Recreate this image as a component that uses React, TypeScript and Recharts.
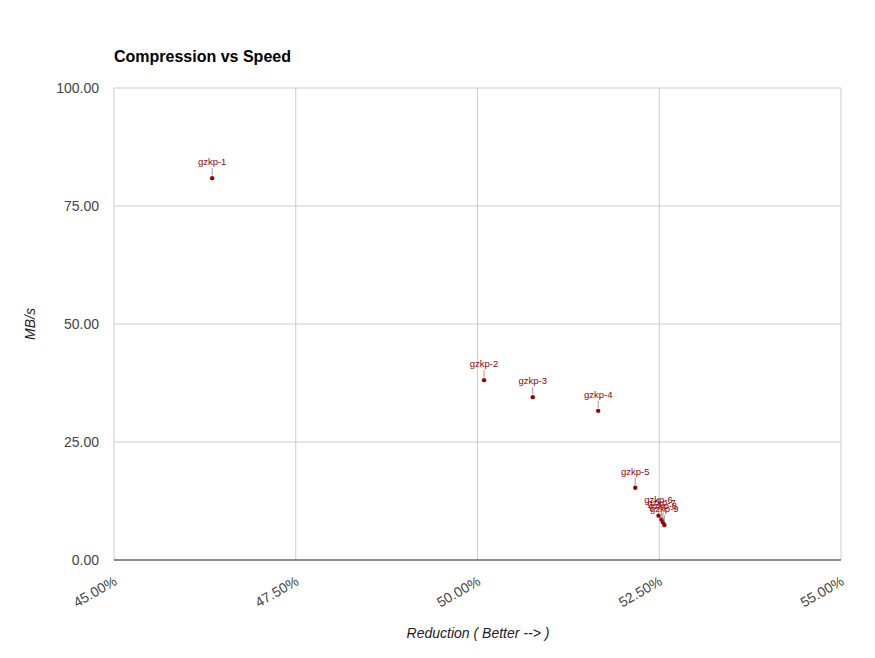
import { ScatterChart, Scatter, XAxis, YAxis, CartesianGrid } from 'recharts';

const names = ['gzkp-1', 'gzkp-2', 'gzkp-3', 'gzkp-4', 'gzkp-5', 'gzkp-6', 'gzkp-7', 'gzkp-8', 'gzkp-9'];
const reduction = [46.35, 50.09, 50.76, 51.66, 52.17, 52.49, 52.53, 52.55, 52.57];
const speed = [80.9, 38.1, 34.5, 31.6, 15.3, 9.4, 8.6, 8.0, 7.4];
const xTicks = [45, 47.5, 50, 52.5, 55];
const yTicks = [0, 25, 50, 75, 100];

const points = names.map((name, i) => ({ name, x: reduction[i], y: speed[i] }));

const FONT = 'Arial, "Liberation Sans", sans-serif';

const PointMark = (props: any) => {
  const { cx, cy, payload } = props;
  return (
    <g>
      <line x1={cx} y1={cy - 10} x2={cx} y2={cy - 3} stroke="#999" strokeWidth={1} />
      <text x={cx} y={cy - 13} textAnchor="middle" fontSize={9.5} fontFamily={FONT} fill="#990000">
        {payload.name}
      </text>
      <circle cx={cx} cy={cy} r={2.2} fill="#990000" />
    </g>
  );
};

const XTick = (props: any) => {
  const { x, y, payload } = props;
  const tx = x + 4;
  const ty = y + 16;
  return (
    <text
      x={tx}
      y={ty}
      textAnchor="end"
      fontSize={14}
      fontFamily={FONT}
      fill="#444"
      transform={`rotate(-30, ${tx}, ${ty})`}
    >
      {`${payload.value.toFixed(2)}%`}
    </text>
  );
};

export default function App() {
  return (
    <div style={{ position: 'absolute', left: 0, top: 0, width: 875, height: 658, background: '#fff', fontFamily: FONT }}>
      <div style={{ position: 'absolute', left: 114, top: 48, fontSize: 16, fontWeight: 'bold', color: '#000' }}>
        Compression vs Speed
      </div>
      <div
        style={{
          position: 'absolute',
          left: 30,
          top: 324,
          transform: 'translate(-50%, -50%) rotate(-90deg)',
          fontSize: 14,
          fontStyle: 'italic',
          color: '#222',
          whiteSpace: 'nowrap',
        }}
      >
        MB/s
      </div>
      <div
        style={{
          position: 'absolute',
          left: 478,
          top: 633,
          transform: 'translate(-50%, -50%)',
          fontSize: 14,
          fontStyle: 'italic',
          color: '#222',
          whiteSpace: 'nowrap',
        }}
      >
        Reduction ( Better --&gt; )
      </div>
      <ScatterChart width={875} height={658} margin={{ top: 88, right: 34, bottom: 0, left: 0 }}>
        <CartesianGrid stroke="#ccc" />
        <XAxis
          type="number"
          dataKey="x"
          domain={[45, 55]}
          ticks={xTicks}
          height={98}
          tickLine={false}
          axisLine={{ stroke: '#333' }}
          tick={<XTick />}
          interval={0}
        />
        <YAxis
          type="number"
          dataKey="y"
          domain={[0, 100]}
          ticks={yTicks}
          width={114}
          tickLine={false}
          axisLine={false}
          tickSize={0}
          tickMargin={15}
          interval={0}
          tickFormatter={(v: number) => v.toFixed(2)}
          tick={{ fontSize: 14, fill: '#444', fontFamily: FONT }}
        />
        <Scatter data={points} shape={<PointMark />} isAnimationActive={false} />
      </ScatterChart>
    </div>
  );
}
